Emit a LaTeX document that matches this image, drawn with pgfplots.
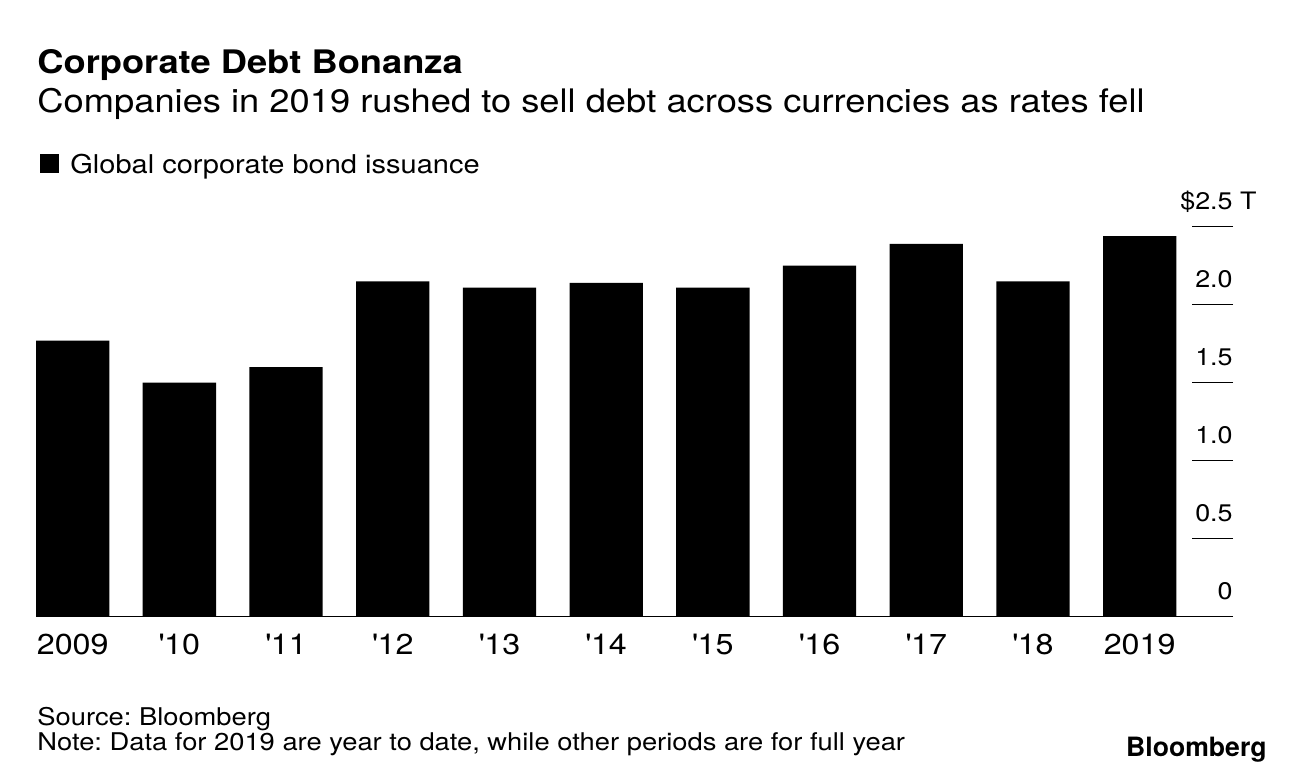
\documentclass[border=0pt]{standalone}
\usepackage{fontspec}
\setmainfont{TeX Gyre Heros}[FakeStretch=1.12]
\usepackage{pgfplots}
\pgfplotsset{compat=1.18}
\frenchspacing

% 1 px of the reference = 0.5pt
\newcommand\fs[1]{\fontsize{#1}{#1}\selectfont}

\begin{document}
\begin{tikzpicture}
\path[use as bounding box] (0,0) rectangle (648pt,388pt);

\node[anchor=base west, inner sep=0] at (18.5pt,351pt) {\fs{16.2}\bfseries Corporate Debt Bonanza};
\node[anchor=base west, inner sep=0] at (18.5pt,331.5pt) {\fs{16.2}Companies in 2019 rushed to sell debt across currencies as rates fell};

\fill (20pt,301.5pt) rectangle (29.5pt,311pt);
\node[anchor=base west, inner sep=0] at (35pt,301.3pt) {\fs{12.95}Global corporate bond issuance};

\begin{axis}[
    at={(18pt,79.65pt)}, anchor=south west,
    scale only axis,
    width=598.5pt, height=195pt,
    xmin=-0.344, xmax=10.875,
    ymin=0, ymax=2.5,
    ybar, bar width=36.65pt,
    axis x line*=bottom,
    axis y line*=right,
    y axis line style={draw=none},
    x axis line style={line width=0.75pt},
    xtick={0,...,10},
    xticklabels={2009,\textquotesingle10,\textquotesingle11,\textquotesingle12,\textquotesingle13,\textquotesingle14,\textquotesingle15,\textquotesingle16,\textquotesingle17,\textquotesingle18,2019},
    xtick style={draw=none},
    xticklabel style={anchor=base, yshift=-19pt, font=\fs{14.4}},
    ytick={0,0.5,1,1.5,2,2.5},
    yticklabels={0,0.5,1.0,1.5,2.0,\$2.5\rlap{ T}},
    tick align=inside,
    major tick length=20.5pt,
    ytick style={line width=0.65pt, black},
    yticklabel style={anchor=base east, inner xsep=0pt, xshift=0pt, yshift=8.5pt, font=\fs{12}},
    clip=false,
]
\addplot[fill=black, draw=none] coordinates {
    (0,1.77) (1,1.50) (2,1.60) (3,2.15) (4,2.11) (5,2.14)
    (6,2.11) (7,2.25) (8,2.39) (9,2.15) (10,2.44)
};
\end{axis}

\node[anchor=base west, inner sep=0] at (18.5pt,25pt) {\fs{12.2}Source: Bloomberg};
\node[anchor=base west, inner sep=0] at (18.5pt,12.5pt) {\fs{12.2}Note: Data for 2019 are year to date, while other periods are for full year};
\node[anchor=base east, inner sep=0] at (633.5pt,9.7pt) {\fontspec{TeX Gyre Heros}\fs{13.3}\bfseries Bloomberg};
\end{tikzpicture}
\end{document}
